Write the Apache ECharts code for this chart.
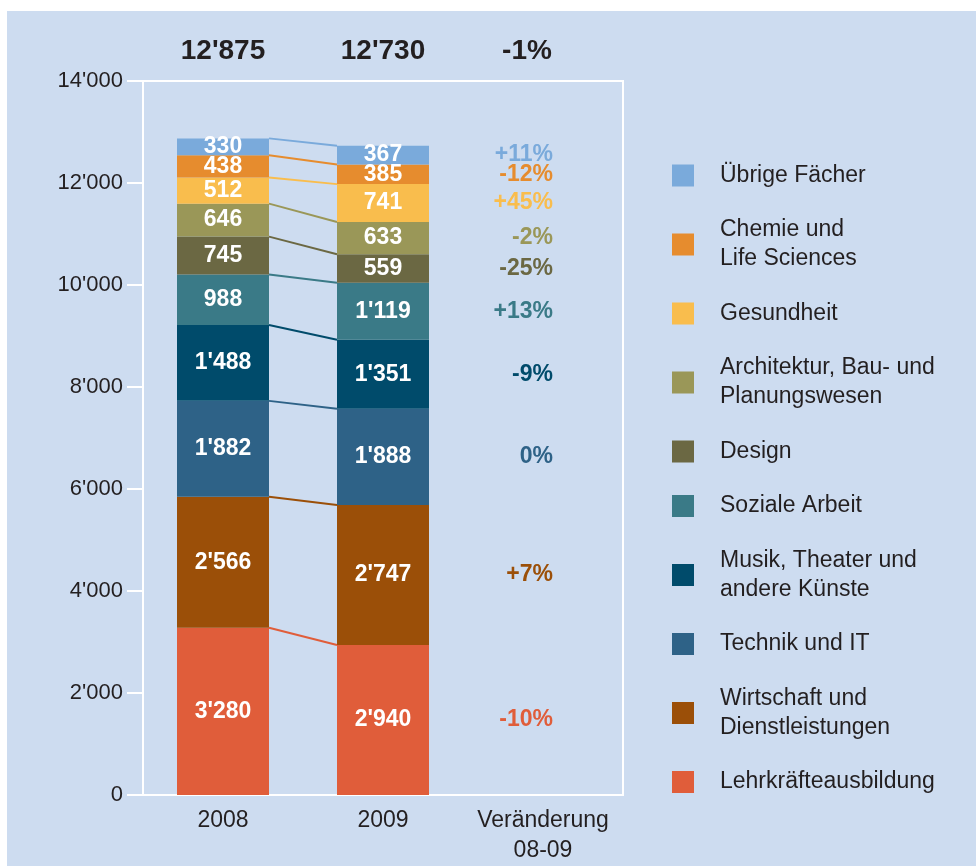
<!DOCTYPE html>
<html>
<head>
<meta charset="utf-8">
<script src="https://cdn.jsdelivr.net/npm/echarts@6/dist/echarts.min.js"></script>
<style>
    html, body { margin: 0; padding: 0; background: #fff; }
    .bg { position: absolute; left: 7px; top: 11px; width: 969px; height: 855px; background: #cddcf0; }
    .chart-con { position: absolute; left: 0; top: 0; width: 976px; height: 866px; }
</style>
</head>
<body>
<div class="bg"></div>
<div id="chart" class="chart-con"></div>
<script>
// categories, bottom of the stack first
const years = ['2008', '2009']
const changeLabel = 'Veränderung\n08-09'
const fields = [
    'Lehrkräfteausbildung',
    'Wirtschaft und\nDienstleistungen',
    'Technik und IT',
    'Musik, Theater und\nandere Künste',
    'Soziale Arbeit',
    'Design',
    'Architektur, Bau- und\nPlanungswesen',
    'Gesundheit',
    'Chemie und\nLife Sciences',
    'Übrige Fächer'
]
const values2008 = [3280, 2566, 1882, 1488, 988, 745, 646, 512, 438, 330]
const values2009 = [2940, 2747, 1888, 1351, 1119, 559, 633, 741, 385, 367]
const yMin = 0
const yMax = 14000
const yStep = 2000

const colors = ['#e05d3a', '#9b4f08', '#2e6287', '#004b6b', '#3a7a87', '#6b6843', '#9a9758', '#f9bd4d', '#e68c2e', '#7aaadb']
const textColor = '#231f20'
const font = 'Liberation Sans, Arial, Helvetica, sans-serif'
const barWidth = 92

const fmt = (n) => String(n).replace(/\B(?=(\d{3})+(?!\d))/g, "'")
const pct = (a, b) => {
    const p = Math.round((b - a) / a * 100)
    return (p > 0 ? '+' : '') + p + '%'
}
const cumulate = (arr) => {
    let s = 0
    return arr.map((v) => (s += v))
}
const tops2008 = cumulate(values2008)
const tops2009 = cumulate(values2009)
const total2008 = tops2008[tops2008.length - 1]
const total2009 = tops2009[tops2009.length - 1]

const barSeries = fields.map((name, i) => ({
    name: name,
    type: 'bar',
    stack: 'total',
    barWidth: barWidth,
    itemStyle: { color: colors[i] },
    label: {
        show: true,
        color: '#fff',
        fontFamily: font,
        fontWeight: 'bold',
        fontSize: 23,
        formatter: (p) => p.dataIndex === 2
            ? '{p|' + pct(values2008[i], values2009[i]) + '}'
            : fmt(p.value),
        rich: {
            p: {
                color: colors[i],
                fontFamily: font,
                fontWeight: 'bold',
                fontSize: 23
            }
        }
    },
    data: [
        values2008[i],
        values2009[i],
        {
            value: values2009[i],
            itemStyle: { color: 'rgba(0,0,0,0)' },
            label: { position: 'insideRight', distance: 36 }
        }
    ]
}))

// lines joining the segment tops of both years
const lineSeries = {
    type: 'custom',
    silent: true,
    z: 1,
    encode: { x: 0, y: 1 },
    data: fields.map((_, i) => [0, tops2008[i], tops2009[i], i]),
    renderItem: (params, api) => {
        const p0 = api.coord([0, api.value(1)])
        const p1 = api.coord([1, api.value(2)])
        const half = barWidth / 2
        return {
            type: 'line',
            shape: { x1: p0[0] + half, y1: p0[1], x2: p1[0] - half, y2: p1[1] },
            style: { stroke: colors[api.value(3)], lineWidth: 2 }
        }
    }
}

const option = {
    animation: false,
    textStyle: { fontFamily: font },
    grid: {
        left: 143,
        right: 353,
        top: 81,
        bottom: 69,
        show: true,
        borderColor: '#fff',
        borderWidth: 2,
        backgroundColor: 'transparent'
    },
    legend: {
        orient: 'vertical',
        left: 672,
        top: 161,
        padding: 0,
        itemWidth: 22,
        itemHeight: 22,
        itemGap: 25.5,
        icon: 'rect',
        selectedMode: false,
        data: fields.slice().reverse(),
        textStyle: {
            fontFamily: font,
            fontSize: 23,
            lineHeight: 29,
            color: textColor,
            padding: [0, 0, 0, 21]
        }
    },
    xAxis: [
        {
            type: 'category',
            data: [...years, changeLabel],
            axisLine: { lineStyle: { color: '#fff', width: 2 } },
            axisTick: { show: false },
            axisLabel: {
                interval: 0,
                color: textColor,
                fontSize: 23,
                lineHeight: 30,
                margin: 11
            }
        },
        {
            type: 'category',
            position: 'top',
            data: [
                fmt(total2008),
                fmt(total2009),
                { value: pct(total2008, total2009), textStyle: { padding: [0, 32, 0, 0] } }
            ],
            axisLine: { show: false },
            axisTick: { show: false },
            axisLabel: {
                interval: 0,
                color: textColor,
                fontSize: 28,
                fontWeight: 'bold',
                margin: 16
            }
        }
    ],
    yAxis: {
        type: 'value',
        min: yMin,
        max: yMax,
        interval: yStep,
        axisLine: { show: true, lineStyle: { color: '#fff', width: 2 } },
        axisTick: { show: true, length: 16, lineStyle: { color: '#fff', width: 2 } },
        splitLine: { show: false },
        axisLabel: {
            color: textColor,
            fontSize: 22,
            margin: 20,
            formatter: (v) => fmt(v)
        }
    },
    series: [...barSeries, lineSeries]
}

const myChart = echarts.init(document.getElementById('chart'))
myChart.setOption(option)
</script>
</body>
</html>
